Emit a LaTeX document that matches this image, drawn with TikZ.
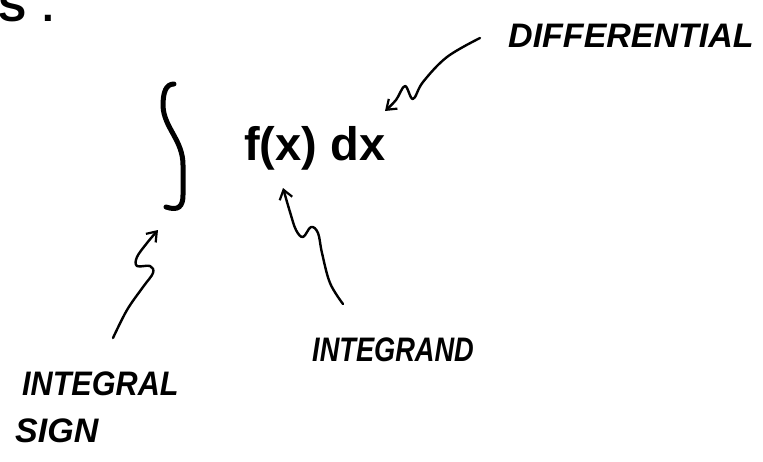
\documentclass[tikz,border=0pt]{standalone}
\usepackage{fontspec}
\setmainfont{Liberation Sans}
\usetikzlibrary{arrows.meta}
\tikzset{
  lbl/.style={inner sep=0pt, font=\fontsize{34}{34}\selectfont\bfseries\itshape},
  pointer/.style={line width=2.4pt, line cap=round, line join=round,
    -{Straight Barb[length=9pt,width=13pt,line width=2.2pt]}},
}
\begin{document}
\begin{tikzpicture}[x=1pt,y=-1pt]
\useasboundingbox (0,0) rectangle (763,461);
\clip (0,0) rectangle (763,461);
% top-left fragment
\node[inner sep=0pt, anchor=base west, font=\fontsize{42}{42}\selectfont\bfseries] (head) at (-2,21) {S\hspace{16pt}.};
% integral sign
\draw[line width=5pt, line cap=round, line join=round]
  (174,84) .. controls (166,84) and (163,92) .. (163,106)
  .. controls (164,128) and (183,140) .. (183,165) -- (183,195)
  .. controls (183,207) and (178,211) .. (166,207);
% expression
\node[inner sep=0pt, anchor=base west, font=\fontsize{47}{47}\selectfont\bfseries] (fx) at (244,160) {f(x) dx};
% labels
\node[lbl, anchor=west] (diff) at (508,36) {DIFFERENTIAL};
\node[lbl, anchor=west] (integrand) at (312,350) {\scalebox{0.8}[1]{INTEGRAND}};
\node[lbl, anchor=west] (integral) at (22,384) {\scalebox{0.9}[1]{INTEGRAL}};
\node[lbl, anchor=west] (sign) at (15,431) {SIGN};
% arrow anchor points
\coordinate (dstart) at (480,38);
\coordinate (dtip) at (385,111);
\coordinate (gstart) at (343,304);
\coordinate (gtip) at (283,188);
\coordinate (sstart) at (113,338);
\coordinate (stip) at (158,230);
% arrows
\draw[pointer] plot[smooth, tension=0.6] coordinates {(dstart) (447,57) (423,82) (413,99) (405,86) (396,100) (dtip)};
\draw[pointer] plot[smooth, tension=0.6] coordinates {(gstart) (330,283) (322,253) (318,233) (311,227) (303,237) (296,230) (290,212) (gtip)};
\draw[pointer] plot[smooth, tension=0.6] coordinates {(sstart) (127,310) (143,287) (153,273) (150,266) (137,266) (137,257) (147,243) (stip)};
\end{tikzpicture}
\end{document}
